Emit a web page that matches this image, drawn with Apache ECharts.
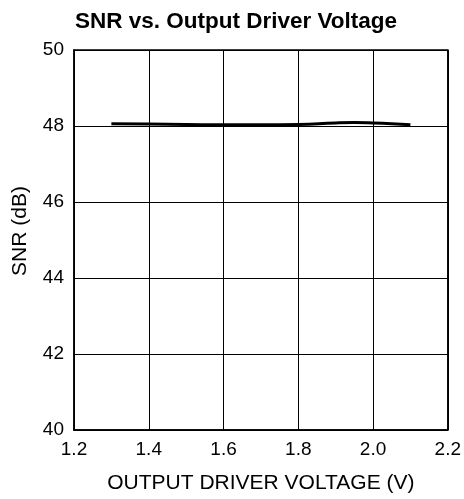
<!DOCTYPE html>
<html><head><meta charset="utf-8">
<script src="https://cdn.jsdelivr.net/npm/echarts@6/dist/echarts.min.js"></script>
<style>html,body{margin:0;padding:0;background:#fff}#c{width:464px;height:499px}</style>
</head><body><div id="c"></div>
<script>
const voltage = [1.30, 1.40, 1.50, 1.60, 1.70, 1.80, 1.90, 1.95, 2.00, 2.05, 2.10];
const snr     = [48.06, 48.05, 48.04, 48.03, 48.03, 48.04, 48.08, 48.09, 48.08, 48.06, 48.03];
const xTicks = [1.2, 1.4, 1.6, 1.8, 2.0, 2.2];
const yTicks = [40, 42, 44, 46, 48, 50];

const chart = echarts.init(document.getElementById('c'), null, {renderer:'canvas'});
const font = 'Liberation Sans, Arial, sans-serif';
chart.setOption({
  animation:false,
  title:{text:'SNR vs. Output Driver Voltage', left:231, textAlign:'center', top:5,
    textStyle:{fontFamily:font, fontSize:22.5, fontWeight:'bold', color:'#000'}},
  grid:{left:74, right:16, top:50, bottom:69, show:true, borderColor:'#000', borderWidth:1.5},
  xAxis:{type:'value', min:1.2, max:2.2, interval:0.2,
    name:'OUTPUT DRIVER VOLTAGE (V)', nameLocation:'middle', nameGap:43,
    nameTextStyle:{fontFamily:font, fontSize:21, color:'#000'},
    axisLine:{show:true, lineStyle:{color:'#000', width:1.5}},
    axisTick:{show:false},
    axisLabel:{fontFamily:font, fontSize:19, color:'#000', margin:10,
      formatter:v=>v.toFixed(1)},
    splitLine:{show:true, lineStyle:{color:'#000', width:1}}},
  yAxis:{type:'value', min:40, max:50, interval:2,
    name:'SNR (dB)', nameLocation:'middle', nameGap:43, nameRotate:90,
    nameTextStyle:{fontFamily:font, fontSize:21, color:'#000', padding:[0,0,0,18]},
    axisLine:{show:true, lineStyle:{color:'#000', width:1.5}},
    axisTick:{show:false},
    axisLabel:{fontFamily:font, fontSize:19, color:'#000', margin:10},
    splitLine:{show:true, lineStyle:{color:'#000', width:1}}},
  series:[{type:'line', data:voltage.map((v,i)=>[v,snr[i]]), smooth:true, showSymbol:false,
    lineStyle:{color:'#000', width:3}}]
});
</script></body></html>
